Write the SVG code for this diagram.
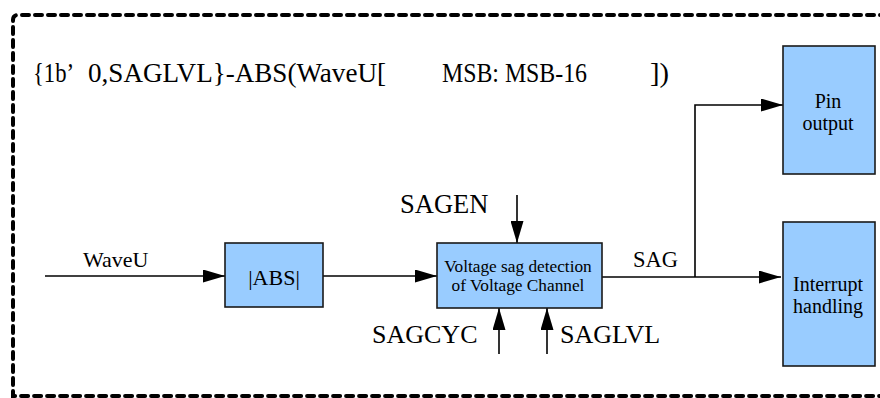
<svg xmlns="http://www.w3.org/2000/svg" width="880" height="398" viewBox="0 0 880 398">
<defs>
<marker id="ah" viewBox="0 0 22 13" refX="22" refY="6.5" markerWidth="22" markerHeight="13" markerUnits="userSpaceOnUse" orient="auto">
<path d="M0,0 L22,6.5 L0,13 Z" fill="#000"/>
</marker>
<style>
.box{fill:#99CCFF;stroke:#1a1a1a;stroke-width:1.6}
.ln{stroke:#000;stroke-width:1.6;fill:none}
</style>
</defs>
<rect width="880" height="398" fill="#fff"/>
<path d="M900,15 L18,15 Q13,15 13,20 L13,396 L900,396" fill="none" stroke="#000" stroke-width="4" stroke-dasharray="7 6" stroke-linecap="round"/>
<g id="formula" fill="#000">
<text x="33" y="82" font-size="27" font-family="'Liberation Serif', serif" textLength="41" lengthAdjust="spacingAndGlyphs">{1b’</text>
<text x="88" y="82" font-size="27" font-family="'Liberation Serif', serif" textLength="298" lengthAdjust="spacingAndGlyphs">0,SAGLVL}-ABS(WaveU[</text>
<text x="442" y="82" font-size="27" font-family="'Liberation Serif', serif" textLength="145" lengthAdjust="spacingAndGlyphs">MSB: MSB-16</text>
<text x="650" y="82" font-size="27" font-family="'Liberation Serif', serif" textLength="19" lengthAdjust="spacingAndGlyphs">])</text>
</g>
<g id="connectors">
<line class="ln" x1="45" y1="276" x2="225" y2="276" marker-end="url(#ah)"/>
<line class="ln" x1="323" y1="276" x2="437" y2="276" marker-end="url(#ah)"/>
<line class="ln" x1="602" y1="277" x2="781" y2="277" marker-end="url(#ah)"/>
<polyline class="ln" points="695,277 695,105 783,105" marker-end="url(#ah)"/>
<line class="ln" x1="517" y1="195" x2="517" y2="243" marker-end="url(#ah)"/>
<line class="ln" x1="499" y1="354" x2="499" y2="308" marker-end="url(#ah)"/>
<line class="ln" x1="547" y1="354" x2="547" y2="308" marker-end="url(#ah)"/>
<text x="83" y="267" font-size="22" font-family="'Liberation Serif', serif">WaveU</text>
<text x="633" y="267" font-size="22.5" font-family="'Liberation Serif', serif">SAG</text>
<text x="400" y="213" font-size="26.5" font-family="'Liberation Serif', serif">SAGEN</text>
<text x="372" y="343" font-size="26" font-family="'Liberation Serif', serif">SAGCYC</text>
<text x="560" y="343" font-size="26" font-family="'Liberation Serif', serif">SAGLVL</text>
</g>
<g id="abs">
<rect class="box" x="225" y="243" width="98" height="64"/>
<text x="274" y="285" font-size="22" text-anchor="middle" font-family="'Liberation Serif', serif">|ABS|</text>
</g>
<g id="detect">
<rect class="box" x="437" y="243" width="165" height="65"/>
<text x="518" y="272" font-size="17.3" text-anchor="middle" font-family="'Liberation Serif', serif">Voltage sag detection</text>
<text x="518" y="291" font-size="17.3" text-anchor="middle" font-family="'Liberation Serif', serif">of Voltage Channel</text>
</g>
<g id="pin">
<rect class="box" x="783" y="46" width="92" height="128"/>
<text x="828" y="108" font-size="20" text-anchor="middle" font-family="'Liberation Serif', serif">Pin</text>
<text x="828" y="130" font-size="20" text-anchor="middle" font-family="'Liberation Serif', serif">output</text>
</g>
<g id="interrupt">
<rect class="box" x="783" y="222" width="92" height="144"/>
<text x="828" y="291" font-size="20" text-anchor="middle" font-family="'Liberation Serif', serif">Interrupt</text>
<text x="828" y="313" font-size="20" text-anchor="middle" font-family="'Liberation Serif', serif">handling</text>
</g>
</svg>
